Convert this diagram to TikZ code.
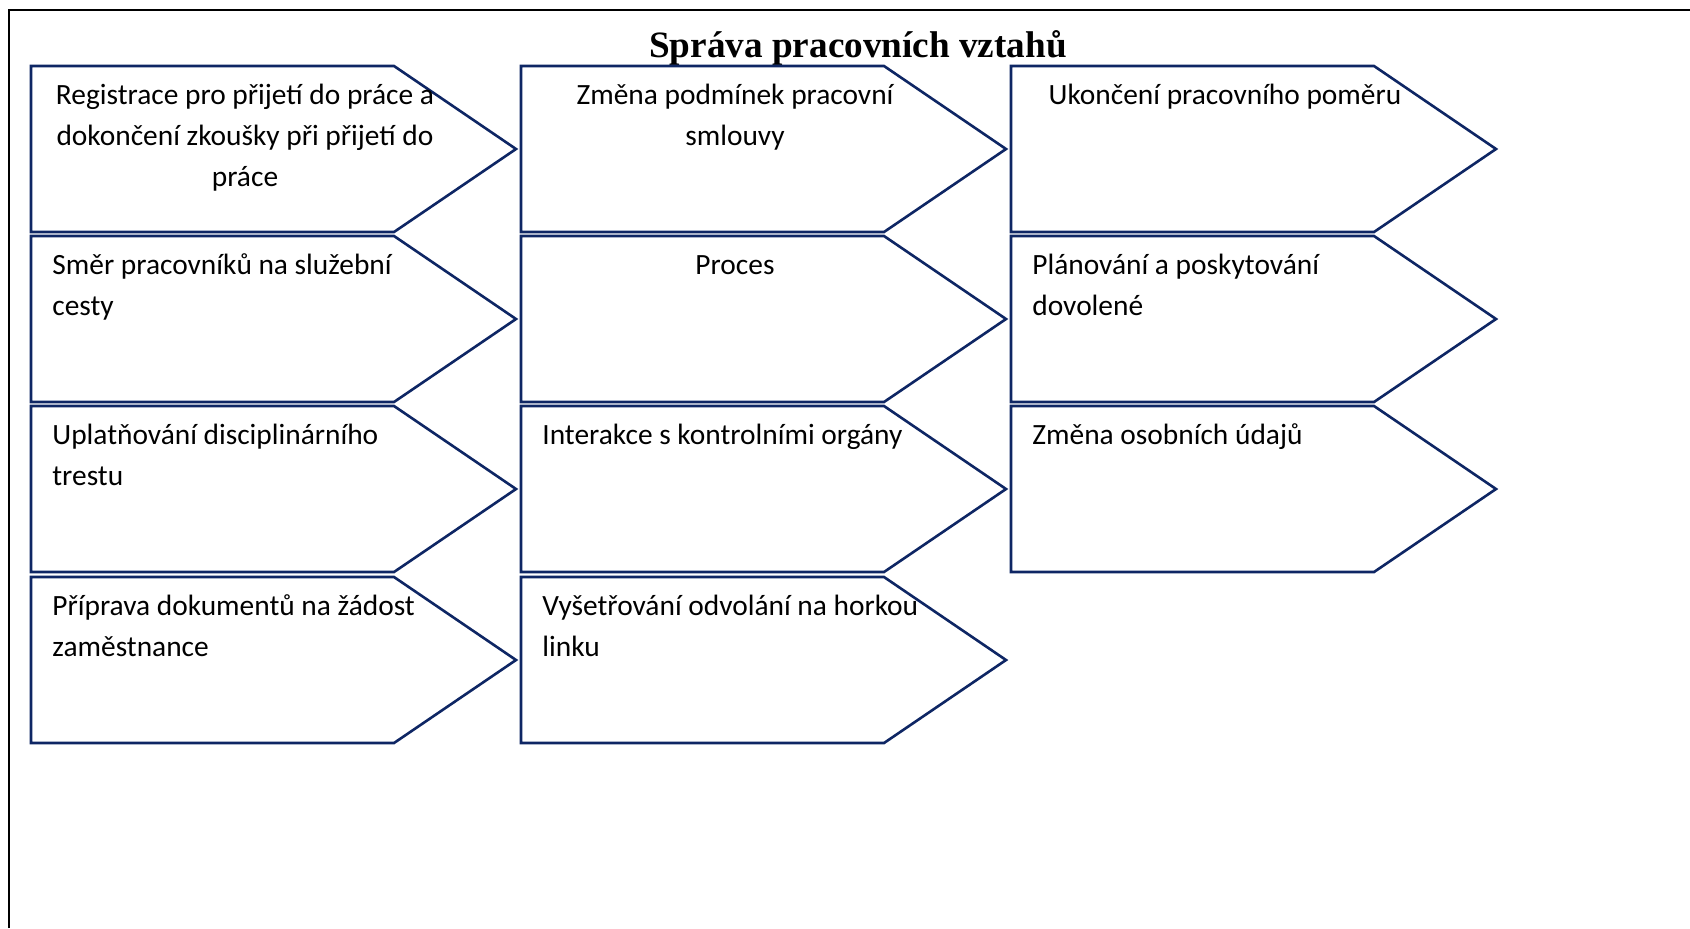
\documentclass[tikz,border=0pt]{standalone}
\usepackage{fontspec}
\setmainfont{Carlito}
\newfontfamily\titlefont{Liberation Serif}
\definecolor{platenavy}{RGB}{14,38,100}
\newcommand\platetext{\fontsize{14.7}{20.5}\selectfont}
% one pentagon step box: top-left corner (#2,#3), named #1
\newcommand\stepplate[3]{%
  \draw[plate] (#2,#3) coordinate (#1-nw) -- ++(363,0) -- ++(122,83) coordinate (#1-tip)
    -- ++(-122,83) -- ++(-363,0) coordinate (#1-sw) -- cycle;}
\tikzset{
  plate/.style={draw=platenavy, line width=1.3pt, line join=miter},
  lefttext/.style={anchor=base west, inner sep=0pt, font=\platetext},
  midtext/.style={anchor=base, inner sep=0pt, font=\platetext},
}
\begin{document}
\begin{tikzpicture}[x=0.5pt,y=-0.5pt]
\useasboundingbox (0,0) rectangle (1690,928);
\fill[white] (0,0) rectangle (1690,928);
% outer frame (left and top only)
\draw[line width=1pt] (9,928) -- (9,10) -- (1690,10);
\node[anchor=base, inner sep=0pt, font=\titlefont\bfseries\fontsize{18.6}{22}\selectfont] (title) at (858,57) {Správa pracovních vztahů};

% column 1
\stepplate{a1}{31}{66}
\stepplate{a2}{31}{236}
\stepplate{a3}{31}{406}
\stepplate{a4}{31}{577}
% column 2
\stepplate{b1}{521}{66}
\stepplate{b2}{521}{236}
\stepplate{b3}{521}{406}
\stepplate{b4}{521}{577}
% column 3
\stepplate{c1}{1011}{66}
\stepplate{c2}{1011}{236}
\stepplate{c3}{1011}{406}

% labels
\node[midtext] (ta1) at (245,104.5) {\begin{tabular}[t]{@{}c@{}}Registrace pro přijetí do práce a\\dokončení zkoušky při přijetí do\\práce\end{tabular}};
\node[lefttext] (ta2) at (52,274.5) {\begin{tabular}[t]{@{}l@{}}Směr pracovníků na služební\\cesty\end{tabular}};
\node[lefttext] (ta3) at (52,444.5) {\begin{tabular}[t]{@{}l@{}}Uplatňování disciplinárního\\trestu\end{tabular}};
\node[lefttext] (ta4) at (52,615.5) {\begin{tabular}[t]{@{}l@{}}Příprava dokumentů na žádost\\zaměstnance\end{tabular}};

\node[midtext] (tb1) at (735,104.5) {\begin{tabular}[t]{@{}c@{}}Změna podmínek pracovní\\smlouvy\end{tabular}};
\node[midtext] (tb2) at (735,274.5) {Proces};
\node[lefttext] (tb3) at (542,444.5) {Interakce s kontrolními orgány};
\node[lefttext] (tb4) at (542,615.5) {\begin{tabular}[t]{@{}l@{}}Vyšetřování odvolání na horkou\\linku\end{tabular}};

\node[midtext] (tc1) at (1225,104.5) {Ukončení pracovního poměru};
\node[lefttext] (tc2) at (1032,274.5) {\begin{tabular}[t]{@{}l@{}}Plánování a poskytování\\dovolené\end{tabular}};
\node[lefttext] (tc3) at (1032,444.5) {Změna osobních údajů};
\end{tikzpicture}
\end{document}
